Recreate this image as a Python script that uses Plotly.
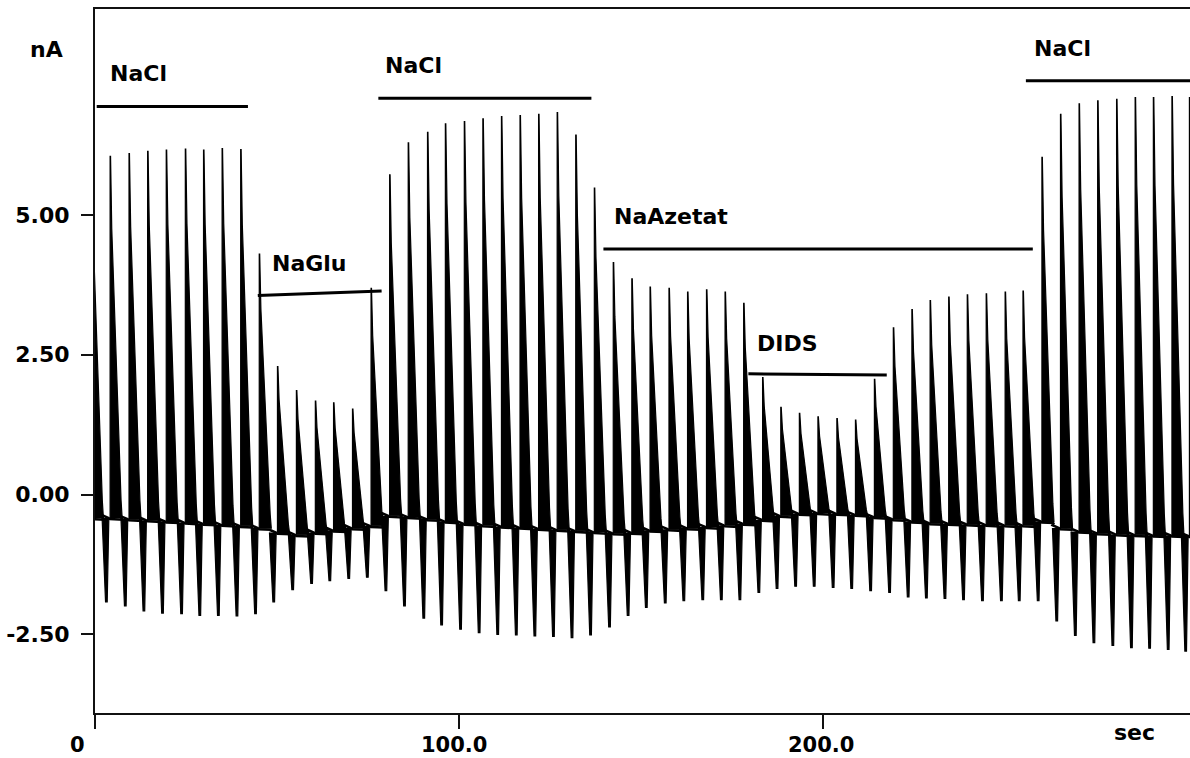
import plotly.graph_objects as go

# ---------------- data ----------------
# stimulus pulse times (sec)
pulse_t = [-1.0, 4.15, 9.34, 14.45, 19.56, 24.8, 29.8, 34.9, 40.0, 45.1,
           50.1, 55.3, 60.5, 65.5, 70.7, 75.8, 80.9, 86.0, 91.3, 96.2,
           101.4, 106.5, 111.6, 116.7, 121.8, 126.9, 132.0, 137.1, 142.3, 147.4,
           152.4, 157.6, 162.7, 167.9, 173.0, 178.1, 183.3, 188.3, 193.4, 198.5,
           203.7, 208.8, 214.0, 219.2, 224.3, 229.3, 234.4, 239.5, 244.7, 249.9,
           254.8, 260.0, 265.1, 270.2, 275.3, 280.5, 285.6, 290.6, 295.7, 300.5]
# positive peak current of each pulse (nA)
peak_nA = [6.00, 6.05, 6.10, 6.14, 6.16, 6.18, 6.16, 6.19, 6.17, 4.30,
           2.29, 1.86, 1.67, 1.64, 1.53, 3.69, 5.72, 6.29, 6.48, 6.63,
           6.67, 6.72, 6.76, 6.78, 6.80, 6.83, 6.43, 5.48, 4.15, 3.86,
           3.71, 3.69, 3.62, 3.66, 3.62, 3.42, 2.09, 1.56, 1.45, 1.39,
           1.36, 1.33, 2.06, 2.98, 3.31, 3.47, 3.53, 3.57, 3.59, 3.62,
           3.64, 6.03, 6.80, 6.99, 7.04, 7.07, 7.10, 7.10, 7.12, 7.10]
# negative trough preceding each pulse (nA)
trough_nA = [-1.90, -1.92, -1.99, -2.08, -2.12, -2.13, -2.16, -2.16, -2.17, -2.13,
             -1.92, -1.70, -1.59, -1.54, -1.50, -1.48, -1.72, -1.99, -2.21, -2.33,
             -2.41, -2.47, -2.50, -2.51, -2.53, -2.54, -2.56, -2.51, -2.37, -2.16,
             -2.02, -1.94, -1.90, -1.88, -1.88, -1.88, -1.75, -1.68, -1.64, -1.64,
             -1.66, -1.68, -1.72, -1.75, -1.83, -1.85, -1.86, -1.88, -1.90, -1.90,
             -1.90, -1.90, -2.26, -2.52, -2.65, -2.70, -2.74, -2.75, -2.77, -2.80]
# holding current (baseline) around each pulse (nA)
base_nA = [-0.42, -0.42, -0.44, -0.46, -0.48, -0.50, -0.52, -0.54, -0.56, -0.60,
           -0.68, -0.72, -0.68, -0.64, -0.60, -0.56, -0.38, -0.40, -0.44, -0.48,
           -0.52, -0.55, -0.57, -0.59, -0.61, -0.63, -0.65, -0.67, -0.69, -0.68,
           -0.64, -0.62, -0.60, -0.58, -0.55, -0.52, -0.45, -0.38, -0.34, -0.33,
           -0.34, -0.36, -0.40, -0.44, -0.48, -0.51, -0.52, -0.53, -0.54, -0.55,
           -0.55, -0.48, -0.60, -0.66, -0.69, -0.71, -0.72, -0.73, -0.73, -0.74]

# solution labels and their application bars
label_text = ["NaCl", "NaGlu", "NaCl", "NaAzetat", "DIDS", "NaCl"]
label_x = [3.65, 48.05, 79.1, 141.9, 181.2, 257.2]
label_y = [7.53, 4.14, 7.67, 4.97, 2.70, 7.98]
bar_x0 = [0.47, 44.7, 77.8, 139.6, 179.4, 255.6]
bar_x1 = [42.0, 78.7, 136.3, 257.5, 217.4, 300.7]
bar_y0 = [6.94, 3.56, 7.09, 4.39, 2.16, 7.40]
bar_y1 = [6.94, 3.64, 7.09, 4.39, 2.14, 7.40]

y_tick_vals = [-2.5, 0.0, 2.5, 5.0]
y_tick_text = ["-2.50", "0.00", "2.50", "5.00"]
x_tick_vals = [0, 100, 200]
x_tick_text = ["0", "100.0", "200.0"]

# ---------------- styling constants ----------------
UP_PROFILE = [(1.0, 0.12), (0.8, 0.45), (0.6, 1.1), (0.33, 2.0),
              (0.15, 2.6), (0.05, 3.0), (0.0, 3.3)]          # (fraction, dt)
DOWN_SHAPE = [(-2.2, 0.0), (-1.25, 1.0), (-0.8, 1.0), (-0.35, 0.0)]  # (dt, fraction)
X_LABEL_SHIFT = [-18, -5, -2]   # horizontal offset (px) of the x tick labels

FONT = "DejaVu Sans"
INK = "#000000"
TXT = dict(family=FONT, size=22, color=INK, weight="bold")
TXT_X = dict(family=FONT, size=21, color=INK, weight="bold")

up_x, up_y, dn_x, dn_y, bl_x, bl_y = [], [], [], [], [], []
for t, p, tr, b in zip(pulse_t, peak_nA, trough_nA, base_nA):
    amp = p - b
    up_x += [t, t] + [t + dt for _, dt in UP_PROFILE] + [t, None]
    up_y += [b, p] + [b + f * amp for f, _ in UP_PROFILE] + [b, None]
    dn_x += [t + dt for dt, _ in DOWN_SHAPE] + [None]
    dn_y += [b + f * (tr - b) for _, f in DOWN_SHAPE] + [None]
    bl_x += [t - 2.2, t - 0.4, t, t + 3.3]
    bl_y += [b + 0.05, b, b - 0.02, b - 0.03]

fig = go.Figure()
fig.add_trace(go.Scatter(x=up_x, y=up_y, mode="lines", fill="toself",
                         fillcolor=INK, line=dict(color=INK, width=1.2),
                         hoverinfo="skip", showlegend=False))
fig.add_trace(go.Scatter(x=dn_x, y=dn_y, mode="lines", fill="toself",
                         fillcolor=INK, line=dict(color=INK, width=1.2),
                         hoverinfo="skip", showlegend=False))
fig.add_trace(go.Scatter(x=bl_x, y=bl_y, mode="lines",
                         line=dict(color=INK, width=2.5),
                         hoverinfo="skip", showlegend=False))

# application bars
for x0, x1, y0, y1 in zip(bar_x0, bar_x1, bar_y0, bar_y1):
    fig.add_trace(go.Scatter(x=[x0, x1], y=[y0, y1], mode="lines",
                             line=dict(color=INK, width=3),
                             hoverinfo="skip", showlegend=False))

annotations = []
for txt, x, y in zip(label_text, label_x, label_y):
    annotations.append(dict(x=x, y=y, xref="x", yref="y", text=txt,
                            showarrow=False, xanchor="left", yanchor="middle",
                            font=TXT))
# x tick labels (placed as in the original, slightly left of their ticks)
for v, txt, sh in zip(x_tick_vals, x_tick_text, X_LABEL_SHIFT):
    annotations.append(dict(x=v, y=0, xref="x", yref="paper", text=txt,
                            showarrow=False, xanchor="center", yanchor="middle",
                            xshift=sh, yshift=-32, font=TXT_X))
annotations.append(dict(x=-0.0441, y=0.9418, xref="paper", yref="paper", text="nA",
                        showarrow=False, xanchor="center", yanchor="middle", font=TXT))
annotations.append(dict(x=0.9493, y=-0.0284, xref="paper", yref="paper", text="sec",
                        showarrow=False, xanchor="center", yanchor="middle", font=TXT))

fig.update_layout(
    width=1190, height=758,
    margin=dict(l=95, r=0, t=9, b=45, autoexpand=False),
    paper_bgcolor="white", plot_bgcolor="white",
    showlegend=False,
    font=TXT,
    annotations=annotations,
)
fig.update_xaxes(range=[0, 300.66], showgrid=False, zeroline=False, automargin=False,
                 showline=True, linecolor="#111111", linewidth=2, mirror=True,
                 ticks="outside", ticklen=14, tickwidth=2, tickcolor="#111111",
                 tickvals=x_tick_vals, showticklabels=False)
fig.update_yaxes(range=[-3.908, 8.685], showgrid=False, zeroline=False, automargin=False,
                 showline=True, linecolor="#111111", linewidth=2, mirror=False,
                 ticks="outside", ticklen=12, tickwidth=2, tickcolor="#111111",
                 tickvals=y_tick_vals, ticktext=y_tick_text,
                 ticklabelstandoff=7, tickfont=TXT)

fig.write_html(
    "out.html",
    config={"displayModeBar": False},
    post_script="document.documentElement.style.margin='0';"
                "document.body.style.margin='0';"
                "document.body.style.overflow='hidden';",
)
